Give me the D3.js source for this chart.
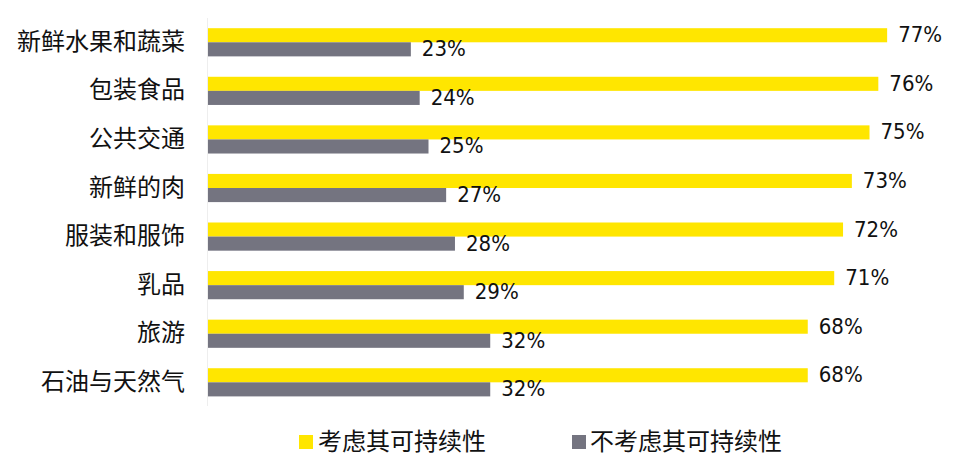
<!DOCTYPE html>
<html>
<head>
<meta charset="utf-8">
<script src="https://cdn.jsdelivr.net/npm/d3@7/dist/d3.min.js"></script>
<style>
  html, body { margin: 0; padding: 0; background: #fff; }
  svg { display: block; }
</style>
</head>
<body>
<svg id="chart" width="968" height="460"></svg>
<script>
const categories = ["新鲜水果和蔬菜", "包装食品", "公共交通", "新鲜的肉", "服装和服饰", "乳品", "旅游", "石油与天然气"];
const seriesNames = ["考虑其可持续性", "不考虑其可持续性"];
const considerValues = [77, 76, 75, 73, 72, 71, 68, 68];
const notConsiderValues = [23, 24, 25, 27, 28, 29, 32, 32];
const seriesColors = ["#FFE600", "#747480"];

const data = categories.map((c, i) => ({ cat: c, vals: [considerValues[i], notConsiderValues[i]] }));

const svg = d3.select("#chart");
const x = d3.scaleLinear().domain([0, 100]).range([208, 1090]);
const y = d3.scaleBand().domain(categories).range([18, 406.6]).paddingInner(0.42).paddingOuter(0.21);
const ySub = d3.scaleBand().domain([0, 1]).range([0, y.bandwidth()]).padding(0);

// faint axis line
svg.append("line")
  .attr("x1", x(0) - 0.5).attr("x2", x(0) - 0.5)
  .attr("y1", 18).attr("y2", 406)
  .attr("stroke", "#eeeeee").attr("stroke-width", 1);

const g = svg.selectAll("g.cat").data(data).join("g")
  .attr("class", "cat")
  .attr("transform", d => `translate(0,${y(d.cat)})`);

g.selectAll("rect").data(d => d.vals).join("rect")
  .attr("x", x(0))
  .attr("y", (v, i) => ySub(i))
  .attr("width", v => x(v) - x(0))
  .attr("height", ySub.bandwidth())
  .attr("fill", (v, i) => seriesColors[i]);

g.selectAll("text.val").data(d => d.vals).join("text")
  .attr("class", "val")
  .attr("x", v => x(v) + 11)
  .attr("y", (v, i) => ySub(i) + ySub.bandwidth() / 2 + 1)
  .attr("dominant-baseline", "middle")
  .attr("font-family", "'DejaVu Sans Condensed', 'DejaVu Sans', sans-serif")
  .attr("font-size", 22)
  .attr("fill", "#111")
  .text(v => v + "%");

// category labels
svg.selectAll("text.cat").data(categories).join("text")
  .attr("class", "cat")
  .attr("x", 185)
  .attr("y", d => y(d) + y.bandwidth() / 2 + 1)
  .attr("text-anchor", "end")
  .attr("dominant-baseline", "middle")
  .attr("font-family", "Noto Sans CJK SC, sans-serif")
  .attr("font-size", 24)
  .attr("fill", "#111")
  .text(d => d);

// legend
const legendX = [299, 572];
const lg = svg.selectAll("g.legend").data(seriesNames).join("g")
  .attr("class", "legend")
  .attr("transform", (d, i) => `translate(${legendX[i]},435)`);
lg.append("rect").attr("width", 14).attr("height", 14).attr("fill", (d, i) => seriesColors[i]);
lg.append("text")
  .attr("x", (d, i) => i === 0 ? 19 : 18)
  .attr("y", 8)
  .attr("dominant-baseline", "middle")
  .attr("font-family", "Noto Sans CJK SC, sans-serif")
  .attr("font-size", 24)
  .attr("fill", "#111")
  .text(d => d);
</script>
</body>
</html>
